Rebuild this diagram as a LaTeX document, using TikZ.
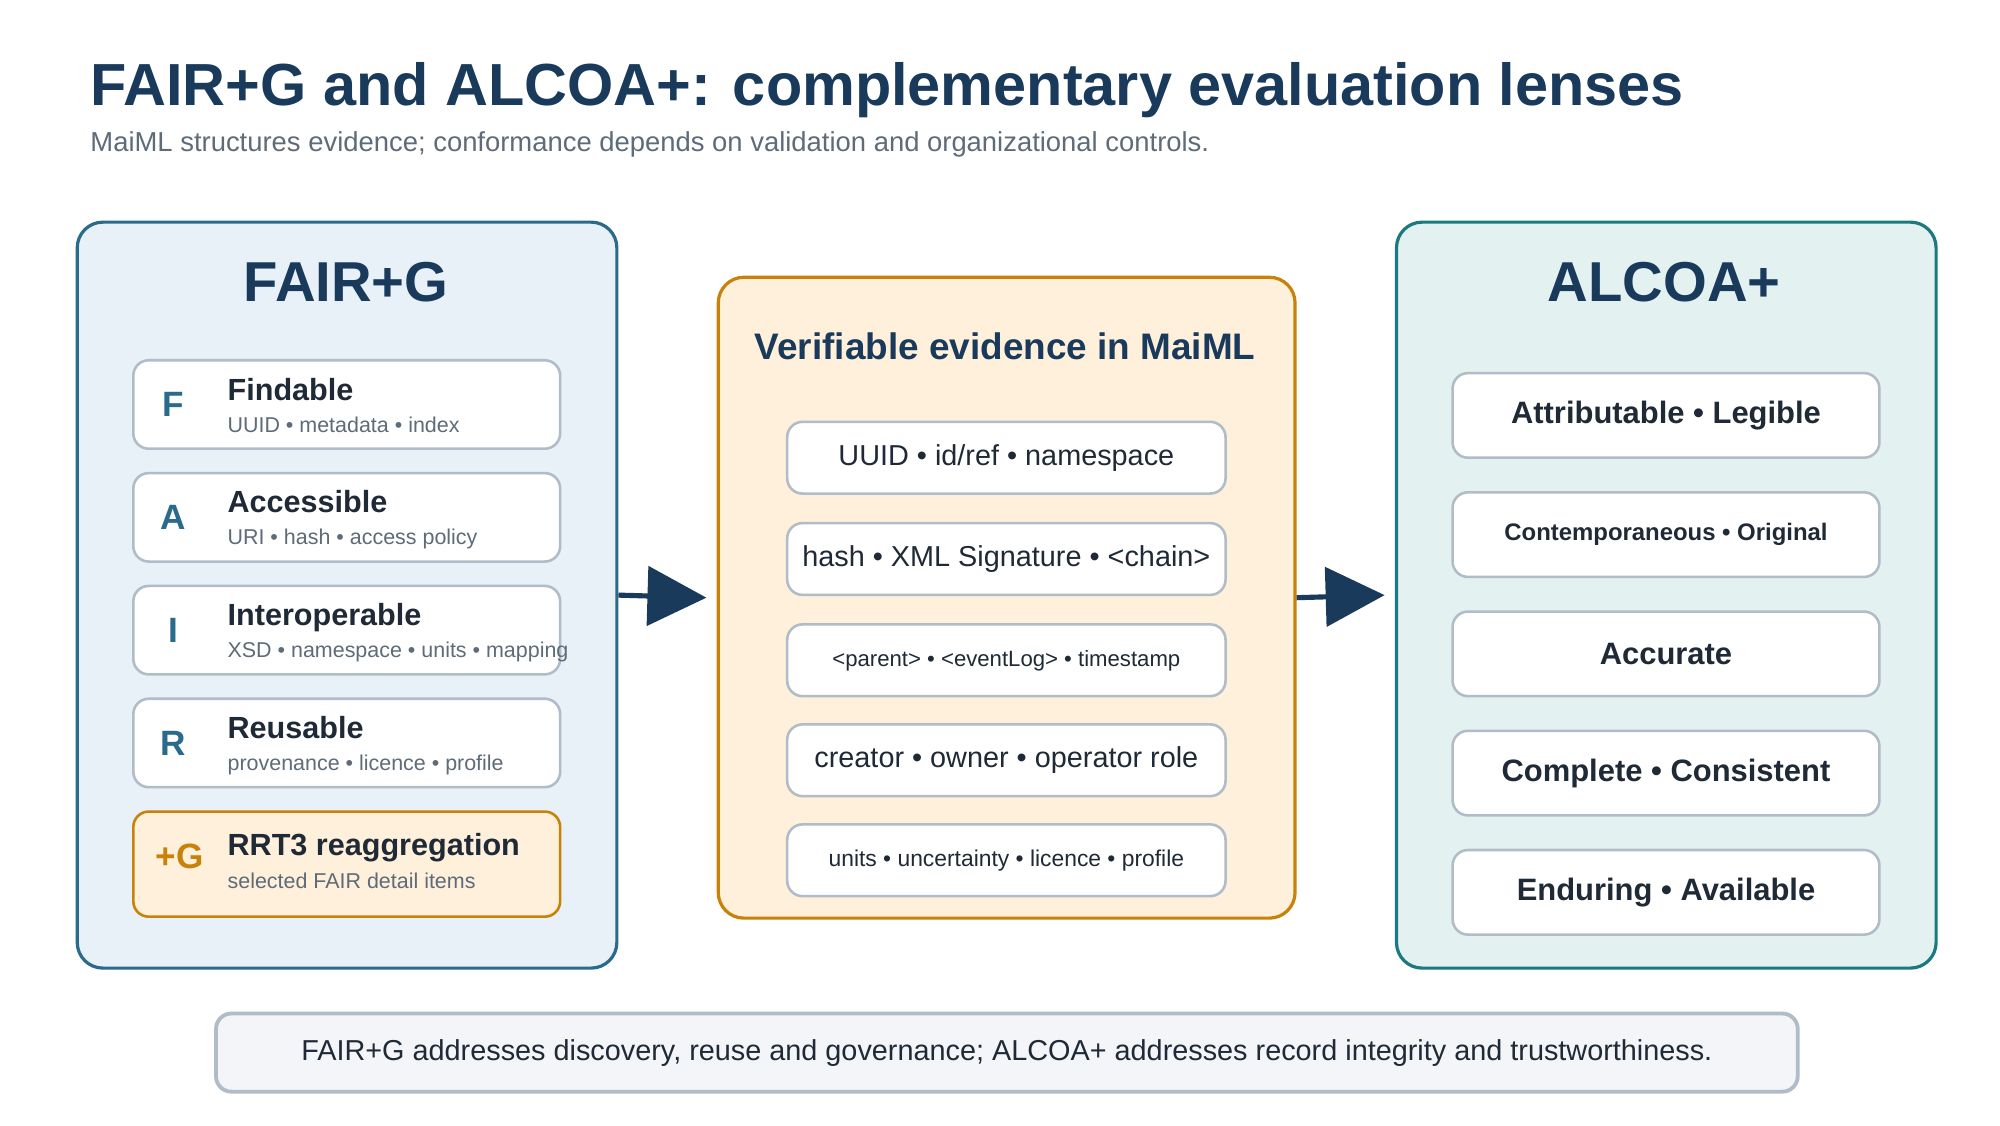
\documentclass[tikz,border=0pt]{standalone}
\usepackage{fontspec}
\setmainfont{Liberation Sans}
\usetikzlibrary{calc,arrows.meta,positioning}
\newcommand{\dpx}{0.3646pt}
\definecolor{navy}{HTML}{1A3A5C}
\definecolor{subgray}{HTML}{5E6B78}
\definecolor{fairblue}{HTML}{2A6A8A}
\definecolor{fairfill}{HTML}{E8F0F8}
\definecolor{govorange}{HTML}{C8820A}
\definecolor{govfill}{HTML}{FFF0DC}
\definecolor{alcoateal}{HTML}{1A7A80}
\definecolor{alcoafill}{HTML}{E3F1F1}
\definecolor{cardline}{HTML}{B0BCC8}
\definecolor{notefill}{HTML}{F3F5F9}
\definecolor{inktext}{HTML}{1F2A36}
\tikzset{
  panel/.style={rounded corners=20*\dpx, line width=2.5*\dpx, anchor=north west, inner sep=0},
  card/.style={rounded corners=12*\dpx, line width=2*\dpx, draw=cardline, fill=white, anchor=north west, inner sep=0},
  letter/.style={font=\bfseries\fontsize{10}{12}\selectfont, text=fairblue},
  cname/.style={anchor=base west, font=\bfseries\fontsize{8.7}{10}\selectfont, text=inktext, inner sep=0},
  csub/.style={anchor=base west, font=\fontsize{6.1}{8}\selectfont, text=subgray, inner sep=0},
  flow/.style={line width=4*\dpx, draw=navy, -{Triangle[length=46*\dpx, width=46*\dpx]}}
}
\begin{document}
\begin{tikzpicture}[x=0.01282cm, y=-0.01282cm]
\useasboundingbox (0,0) rectangle (1560,877.5);

% title
\node[anchor=base west, inner sep=0, text=navy, font=\bfseries\fontsize{16.9}{20}\selectfont] (title) at (70,82) {FAIR+G and ALCOA+: complementary evaluation lenses};
\node[anchor=base west, inner sep=0, text=subgray, font=\fontsize{7.8}{9}\selectfont] (subtitle) at (70,118) {MaiML structures evidence; conformance depends on validation and organizational controls.};

% panels
\node[panel, draw=fairblue, fill=fairfill, minimum width=421*\dpx, minimum height=582*\dpx] (fair) at (59,172) {};
\node[panel, draw=govorange, fill=govfill, minimum width=450*\dpx, minimum height=500*\dpx] (maiml) at (559,215) {};
\node[panel, draw=alcoateal, fill=alcoafill, minimum width=421*\dpx, minimum height=582*\dpx] (alcoa) at (1088,172) {};

\node[text=navy, font=\bfseries\fontsize{16}{19}\selectfont] (fairtitle) at (270,220) {FAIR+G};
\node[text=navy, font=\bfseries\fontsize{10.5}{12}\selectfont] (maimltitle) at (784,270) {Verifiable evidence in MaiML};
\node[text=navy, font=\bfseries\fontsize{16}{19}\selectfont] (alcoatitle) at (1298,220) {ALCOA+};

% FAIR+G cards
\foreach \key/\ltr/\nm/\sub/\y in {
  F/F/Findable/{UUID • metadata • index}/280,
  A/A/Accessible/{URI • hash • access policy}/368,
  I/I/Interoperable/{XSD • namespace • units • mapping}/456,
  R/R/Reusable/{provenance • licence • profile}/544} {
  \node[card, minimum width=333*\dpx, minimum height=69*\dpx] (\key) at (103,\y) {};
  \node[letter] at ($(\key.west)+(32,0)$) {\ltr};
  \node[cname] at ($(\key.north west)+(74,32)$) {\nm};
  \node[csub] at ($(\key.north west)+(74,57)$) {\sub};
}
\node[card, draw=govorange, fill=govfill, minimum width=333*\dpx, minimum height=82*\dpx] (G) at (103,632) {};
\node[letter, text=govorange] at ($(G.west)+(37,-6)$) {+G};
\node[cname] at ($(G.north west)+(74,35)$) {RRT3 reaggregation};
\node[csub] at ($(G.north west)+(74,61)$) {selected FAIR detail items};

% MaiML evidence cards
\foreach \key/\txt/\fs/\y in {
  m1/{UUID • id/ref • namespace}/8.2/328,
  m2/{hash • XML Signature • <chain>}/8.2/407,
  m3/{<parent> • <eventLog> • timestamp}/6.3/486,
  m4/{creator • owner • operator role}/8.2/564,
  m5/{units • uncertainty • licence • profile}/6.5/642} {
  \node[card, minimum width=342*\dpx, minimum height=56*\dpx] (\key) at (613,\y) {};
  \node[text=inktext, font=\fontsize{\fs}{10}\selectfont] at (\key.center) {\txt};
}

% ALCOA+ cards
\foreach \key/\txt/\fs/\y in {
  a1/{Attributable • Legible}/8.8/290,
  a2/{Contemporaneous • Original}/6.8/383,
  a3/{Accurate}/8.8/476,
  a4/{Complete • Consistent}/8.8/569,
  a5/{Enduring • Available}/8.8/662} {
  \node[card, minimum width=333*\dpx, minimum height=66*\dpx] (\key) at (1132,\y) {};
  \node[text=inktext, font=\bfseries\fontsize{\fs}{10}\selectfont] at (\key.center) {\txt};
}

% flow arrows
\draw[flow] (fair.east) -- ($(maiml.west)+(-8,0)$);
\draw[flow] (maiml.east) -- ($(alcoa.west)+(-8,0)$);

% footer
\node[rounded corners=12*\dpx, line width=3*\dpx, draw=cardline, fill=notefill, anchor=north west, inner sep=0, minimum width=1234*\dpx, minimum height=61*\dpx] (note) at (167,789) {};
\node[text=inktext, font=\fontsize{8.2}{10}\selectfont] at (note.center) {FAIR+G addresses discovery, reuse and governance; ALCOA+ addresses record integrity and trustworthiness.};
\end{tikzpicture}
\end{document}
